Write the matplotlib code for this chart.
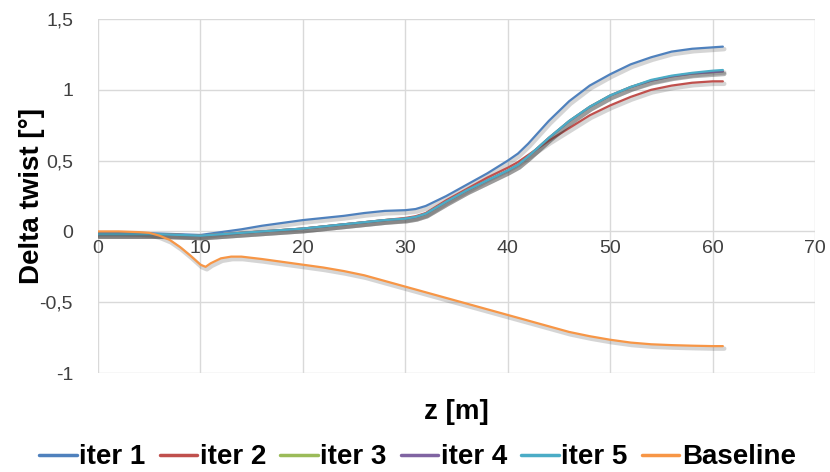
import matplotlib
matplotlib.use("Agg")
import matplotlib.pyplot as plt
import matplotlib.patheffects as pe

# Blade stations along the span (m)
z = [0, 2, 4, 6, 8, 10, 11, 12, 13, 14, 16, 18, 20, 22, 24, 26, 28, 30, 31, 32,
     34, 36, 38, 40, 41, 42, 44, 46, 48, 50, 52, 54, 56, 58, 60, 61]

iter1 = [-0.01, -0.01, -0.01, -0.015, -0.02, -0.025, -0.015, -0.005, 0.005, 0.015,
         0.04, 0.06, 0.08, 0.095, 0.11, 0.13, 0.145, 0.15, 0.158, 0.18,
         0.25, 0.33, 0.41, 0.50, 0.55, 0.62, 0.78, 0.92, 1.03, 1.11,
         1.18, 1.23, 1.27, 1.29, 1.30, 1.305]
iter2 = [-0.02, -0.02, -0.02, -0.02, -0.025, -0.03, -0.025, -0.02, -0.015, -0.01,
         0.0, 0.01, 0.02, 0.035, 0.05, 0.065, 0.08, 0.095, 0.107, 0.13,
         0.22, 0.30, 0.38, 0.45, 0.49, 0.54, 0.64, 0.73, 0.82, 0.89,
         0.95, 1.00, 1.03, 1.05, 1.06, 1.06]
iter3 = [-0.02, -0.02, -0.02, -0.02, -0.025, -0.03, -0.025, -0.02, -0.015, -0.01,
         0.0, 0.01, 0.02, 0.035, 0.05, 0.065, 0.08, 0.09, 0.102, 0.125,
         0.21, 0.29, 0.36, 0.43, 0.47, 0.53, 0.66, 0.78, 0.88, 0.96,
         1.02, 1.065, 1.095, 1.115, 1.125, 1.13]
iter4 = [-0.02, -0.02, -0.02, -0.02, -0.025, -0.03, -0.025, -0.02, -0.015, -0.01,
         0.0, 0.01, 0.02, 0.035, 0.05, 0.065, 0.08, 0.09, 0.102, 0.125,
         0.21, 0.29, 0.36, 0.43, 0.47, 0.53, 0.66, 0.78, 0.88, 0.96,
         1.02, 1.065, 1.095, 1.115, 1.125, 1.13]
iter5 = [-0.02, -0.02, -0.02, -0.02, -0.025, -0.03, -0.025, -0.02, -0.015, -0.01,
         0.0, 0.01, 0.02, 0.035, 0.05, 0.065, 0.08, 0.09, 0.102, 0.125,
         0.21, 0.29, 0.36, 0.43, 0.47, 0.53, 0.66, 0.78, 0.88, 0.96,
         1.02, 1.07, 1.10, 1.12, 1.135, 1.14]

z_base = [0, 2, 4, 5, 6, 7, 8, 9, 10, 10.5, 11, 12, 13, 14, 16, 18, 20, 22, 24,
          26, 28, 30, 32, 34, 36, 38, 40, 42, 44, 46, 48, 50, 52, 54, 56, 58, 60, 61]
baseline = [0.0, 0.0, -0.005, -0.01, -0.03, -0.06, -0.11, -0.17, -0.235, -0.25,
            -0.225, -0.19, -0.178, -0.178, -0.195, -0.215, -0.235, -0.255, -0.28,
            -0.31, -0.35, -0.39, -0.43, -0.47, -0.51, -0.55, -0.59, -0.63, -0.67,
            -0.71, -0.74, -0.765, -0.785, -0.797, -0.803, -0.807, -0.81, -0.81]

series = [("iter 1", iter1, "#4F81BD"),
          ("iter 2", iter2, "#C0504D"),
          ("iter 3", iter3, "#9BBB59"),
          ("iter 4", iter4, "#8064A2"),
          ("iter 5", iter5, "#4BACC6")]

x_ticks = [0, 10, 20, 30, 40, 50, 60, 70]
y_ticks = [-1, -0.5, 0, 0.5, 1, 1.5]
y_tick_labels = ["-1", "-0,5", "0", "0,5", "1", "1,5"]

plt.rcParams['font.family'] = ['Liberation Sans', 'DejaVu Sans']

fig = plt.figure(figsize=(8.3, 4.72), dpi=100)
ax = fig.add_axes([0.1181, 0.2097, 0.8639, 0.75])

# soft drop shadow under every curve
shadow = [pe.SimpleLineShadow(offset=(1.0, -1.8), shadow_color='#444444',
                              alpha=0.22, linewidth=3.2),
          pe.Normal()]

for name, vals, col in series:
    ax.plot(z, vals, color=col, lw=1.6, label=name, path_effects=shadow,
            solid_capstyle='round')
ax.plot(z_base, baseline, color="#F79646", lw=1.6, label="Baseline",
        path_effects=shadow, solid_capstyle='round')

ax.set_xlim(0, 70)
ax.set_ylim(-1, 1.5)
ax.set_xticks(x_ticks)
ax.set_yticks(y_ticks)
ax.set_yticklabels(y_tick_labels)
ax.grid(True, color='#d9d9d9', lw=1.0)
ax.set_axisbelow(True)
for s in ax.spines.values():
    s.set_visible(False)
ax.spines['bottom'].set_position(('data', 0))
ax.tick_params(axis='both', length=0, labelsize=14, colors='#404040')
ax.tick_params(axis='y', pad=18)
ax.tick_params(axis='x', pad=6)

fig.text(0.038, 0.5847, "Delta twist [°]", rotation=90, ha='center', va='center',
         fontsize=20, fontweight='bold')
fig.text(0.55, 0.127, "z [m]", ha='center', va='center', fontsize=20,
         fontweight='bold')

leg = fig.legend(loc='center', bbox_to_anchor=(0.503, 0.031), ncol=6, frameon=False,
                 prop={'size': 20, 'weight': 'bold'}, handlelength=1.35,
                 handletextpad=0.1, columnspacing=0.5, borderaxespad=0)
for h in leg.get_lines():
    h.set_linewidth(2.5)
    h.set_path_effects([])

fig.savefig("out.png", dpi=100)
